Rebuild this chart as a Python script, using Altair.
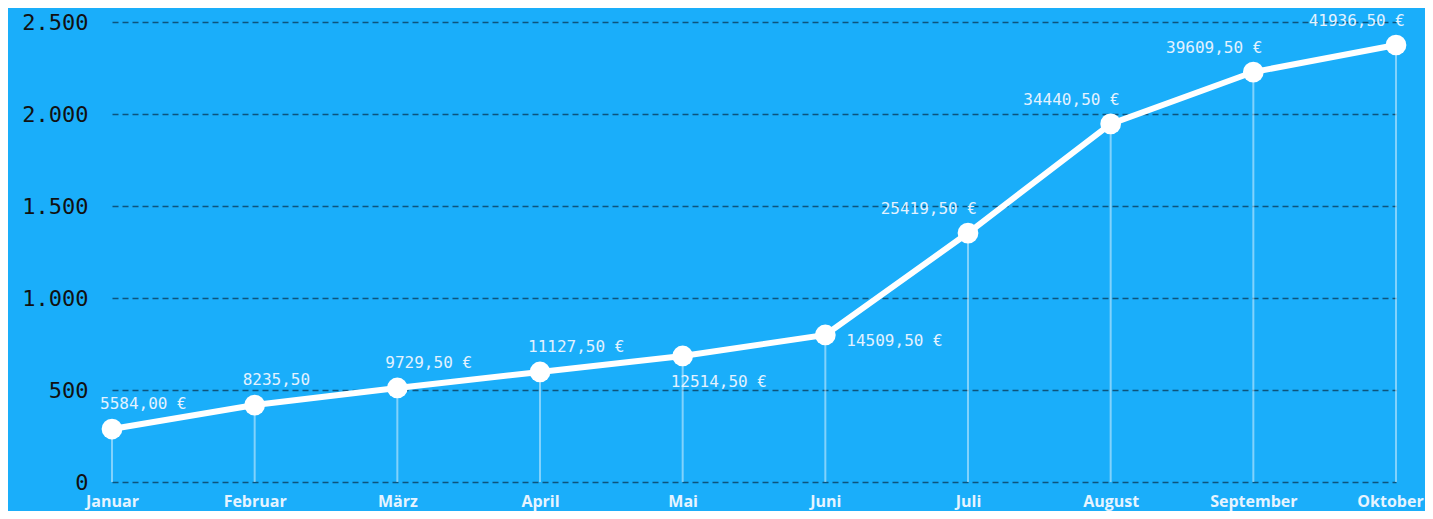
import altair as alt
import pandas as pd

months = ["Januar", "Februar", "März", "April", "Mai", "Juni", "Juli", "August", "September", "Oktober"]
values = [288, 418, 511, 598, 685, 799, 1353, 1946, 2228, 2375]
labels = ["5584,00 €", "8235,50", "9729,50 €", "11127,50 €", "12514,50 €",
          "14509,50 €", "25419,50 €", "34440,50 €", "39609,50 €", "41936,50 €"]
y_ticks = [0, 500, 1000, 1500, 2000, 2500]

df = pd.DataFrame({"month": months, "value": values, "label": labels, "idx": list(range(len(months)))})

BG = "#1aaefa"
MONO = "DejaVu Sans Mono"

x = alt.X("month:N", sort=months, scale=alt.Scale(type="point", padding=0),
          axis=alt.Axis(title=None, labelAngle=0, domain=False, ticks=False, grid=False,
                        labelFont="Open Sans", labelFontWeight="bold", labelFontSize=16,
                        labelColor="#e6f4ff", labelPadding=11, labelBaseline="top",
                        labelOffset={"condition": {"test": "datum.value === 'Oktober'", "value": -6},
                                     "value": 0}))
y = alt.Y("value:Q", scale=alt.Scale(domain=[0, 2500], nice=False),
          axis=alt.Axis(title=None, values=y_ticks, domain=False, ticks=False,
                        labelFont=MONO, labelFontSize=22, labelColor="#111111", labelPadding=24,
                        labelExpr="replace(format(datum.value, ',d'), ',', '.')",
                        grid=True, gridColor="#0b3d5c", gridOpacity=0.8, gridDash=[6, 4], gridWidth=1.3))

base = alt.Chart(df)

rules = base.mark_rule(color="white", opacity=0.45, strokeWidth=2).encode(
    x=x, y=y, y2=alt.datum(0))
line = base.mark_line(color="white", strokeWidth=6).encode(x=x, y=y)
points = base.mark_circle(color="white", opacity=1, size=430).encode(x=x, y=y)

def txt(filt, align, dx, dy):
    return base.transform_filter(filt).mark_text(
        font=MONO, fontSize=16, color="#e3f2ff", align=align, baseline="middle", dx=dx, dy=dy
    ).encode(x=x, y=y, text="label:N")

t1 = txt("datum.idx <= 3", "left", -12, -25)
t2 = txt("datum.idx == 4", "left", -12, 26)
t3 = txt("datum.idx == 5", "left", 21, 6)
t4 = txt("datum.idx >= 6", "right", 9, -24)

chart = alt.layer(rules, line, points, t1, t2, t3, t4).properties(
    width=1284, height=460,
    background=BG,
    padding={"left": 104, "top": 14, "right": 29, "bottom": 29},
    autosize=alt.AutoSizeParams(type="none"),
).configure_view(stroke=None)

chart.save("out.html", embed_options={"renderer": "svg", "actions": False})
